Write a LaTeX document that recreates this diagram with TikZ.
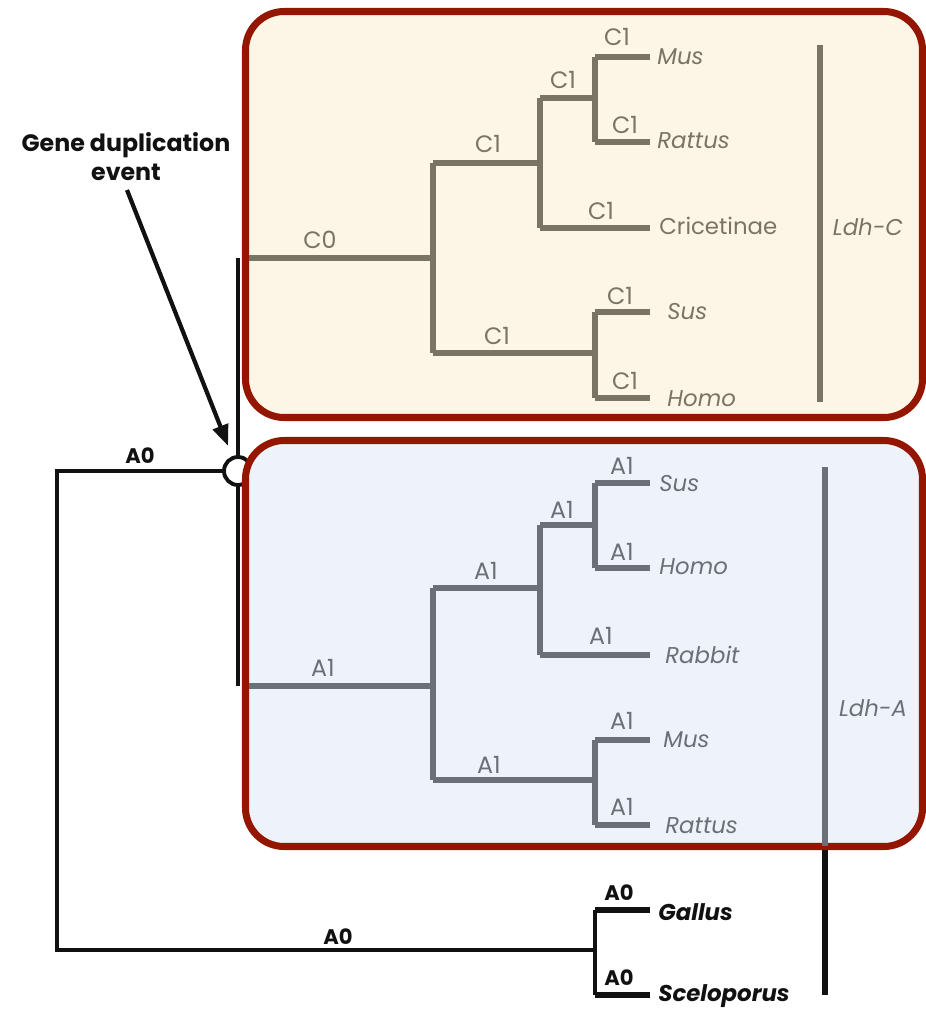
\documentclass[tikz,border=0pt]{standalone}
\usepackage{fontspec}
\setmainfont{Poppins}
\usetikzlibrary{arrows.meta}
\definecolor{boxred}{HTML}{941500}
\definecolor{cream}{HTML}{FDF6E6}
\definecolor{paleblue}{HTML}{EEF2FA}
\definecolor{ccol}{HTML}{7A7464}
\definecolor{acol}{HTML}{6B6F77}
\definecolor{ink}{HTML}{111111}
\tikzset{
  region/.style={draw=boxred, line width=4pt, rounded corners=22pt},
  ctree/.style={draw=ccol, line width=3pt},
  cleaf/.style={draw=ccol, line width=3.6pt},
  atree/.style={draw=acol, line width=3pt},
  aleaf/.style={draw=acol, line width=3.6pt},
  ktree/.style={draw=ink, line width=2.5pt},
  kleaf/.style={draw=ink, line width=3.1pt},
  clab/.style={text=ccol, font=\fontsize{13.5}{15}\selectfont, inner sep=0pt},
  alab/.style={text=acol, font=\fontsize{13.5}{15}\selectfont, inner sep=0pt},
  klab/.style={text=ink, font=\bfseries\fontsize{12}{14}\selectfont, inner sep=0pt},
  cname/.style={text=ccol, font=\itshape\fontsize{13}{15}\selectfont, anchor=west, inner sep=0pt},
  aname/.style={text=acol, font=\itshape\fontsize{13}{15}\selectfont, anchor=west, inner sep=0pt},
  kname/.style={text=ink, font=\bfseries\itshape\fontsize{13}{15}\selectfont, anchor=west, inner sep=0pt},
}
\begin{document}
\begin{tikzpicture}[x=0.02cm,y=-0.02cm]
\useasboundingbox[fill=white] (0,0) rectangle (926,1011);

% black outer tree (behind boxes)
\coordinate (dupTop) at (238,258);
\coordinate (dupBot) at (238,686);
\draw[ktree] (dupTop) -- (dupBot);
\coordinate (kroot) at (57,471);
\coordinate (kbot) at (57,950);
\coordinate (kfork) at (595,950);
\coordinate (ktopL) at (595,910);
\coordinate (kbotL) at (595,995);
\coordinate (gallE) at (650,910);
\coordinate (sceE) at (650,995);
\node[circle, draw=ink, fill=white, line width=2.2pt, minimum size=0.56cm, inner sep=0pt] (dup) at (238,471) {};
\draw[ktree] (dup.west) -- (kroot) -- (kbot) -- (kfork);
\draw[ktree] (ktopL) -- (kbotL);
\draw[kleaf] (ktopL) -- (gallE);
\draw[kleaf] (kbotL) -- (sceE);
\node[klab] (lka) at (140,456) {A0};
\node[klab] (lkb) at (338,937) {A0};
\node[klab] (lkc) at (619,893) {A0};
\node[klab] (lkd) at (619,978) {A0};
\node[kname] (gallus) at (658,912) {Gallus};
\node[kname] (scel) at (658,996) {Sceloporus};
\coordinate (barKtop) at (825,850);
\coordinate (barKbot) at (825,995);
\draw[ink, line width=3.4pt] (barKtop) -- (barKbot);

% annotation
\node[text=ink, font=\bfseries\fontsize{13.5}{16.5}\selectfont, align=center, inner sep=0pt] (gde) at (126,157) {Gene duplication\\event};
\coordinate (arrS) at (127,190);
\draw[ink, line width=2.4pt, -{Triangle[length=12pt,width=9pt]}, shorten >=0.22cm] (arrS) -- (dup);

% boxes
\draw[region, fill=cream] (245.5,11.5) rectangle (922.5,417.5);
\draw[region, fill=paleblue] (245.5,440.5) rectangle (922.5,846.5);

% Ldh-C tree
\coordinate (c0) at (249,258);
\coordinate (c1) at (433,258);
\coordinate (c1u) at (433,163);
\coordinate (c1d) at (433,353);
\coordinate (c2) at (540,163);
\coordinate (c2u) at (540,98);
\coordinate (c2d) at (540,228);
\coordinate (c3) at (595,98);
\coordinate (c3u) at (595,57);
\coordinate (c3d) at (595,142);
\coordinate (c4) at (595,353);
\coordinate (c4u) at (595,312);
\coordinate (c4d) at (595,398);
\draw[ctree] (c0) -- (c1);
\draw[ctree] (c1u) -- (c1d);
\draw[ctree] (c1u) -- (c2);
\draw[ctree] (c2u) -- (c2d);
\draw[ctree] (c2u) -- (c3);
\draw[ctree] (c3u) -- (c3d);
\draw[ctree] (c1d) -- (c4);
\draw[ctree] (c4u) -- (c4d);
\coordinate (cmusE) at (650,57);
\coordinate (cratE) at (650,142);
\coordinate (ccriE) at (650,228);
\coordinate (csusE) at (650,312);
\coordinate (chomE) at (650,398);
\draw[cleaf] (c3u) -- (cmusE);
\draw[cleaf] (c3d) -- (cratE);
\draw[cleaf] (c2d) -- (ccriE);
\draw[cleaf] (c4u) -- (csusE);
\draw[cleaf] (c4d) -- (chomE);
\node[cname] (cmus) at (657,57) {Mus};
\node[cname] (crat) at (657,141) {Rattus};
\node[cname, font=\fontsize{13}{15}\selectfont] (ccri) at (659,226) {Cricetinae};
\node[cname] (csus) at (667,312) {Sus};
\node[cname] (chom) at (667,399) {Homo};
\node[clab] (lc0) at (320,240) {C0};
\node[clab] (lc1) at (488,144) {C1};
\node[clab] (lc2) at (563,80) {C1};
\node[clab] (lc3) at (617,37) {C1};
\node[clab] (lc4) at (625,125) {C1};
\node[clab] (lc5) at (601,211) {C1};
\node[clab] (lc6) at (497,336) {C1};
\node[clab] (lc7) at (620,296) {C1};
\node[clab] (lc8) at (625,381) {C1};
\coordinate (barCtop) at (820,45);
\coordinate (barCbot) at (820,402);
\draw[ccol, line width=3.4pt] (barCtop) -- (barCbot);
\node[cname, anchor=center] (ldhc) at (868,227) {Ldh-C};

% Ldh-A tree
\coordinate (a0) at (249,686);
\coordinate (a1) at (433,686);
\coordinate (a1u) at (433,588);
\coordinate (a1d) at (433,780);
\coordinate (a2) at (540,588);
\coordinate (a2u) at (540,525);
\coordinate (a2d) at (540,655);
\coordinate (a3) at (595,525);
\coordinate (a3u) at (595,483);
\coordinate (a3d) at (595,568);
\coordinate (a4) at (595,780);
\coordinate (a4u) at (595,740);
\coordinate (a4d) at (595,825);
\draw[atree] (a0) -- (a1);
\draw[atree] (a1u) -- (a1d);
\draw[atree] (a1u) -- (a2);
\draw[atree] (a2u) -- (a2d);
\draw[atree] (a2u) -- (a3);
\draw[atree] (a3u) -- (a3d);
\draw[atree] (a1d) -- (a4);
\draw[atree] (a4u) -- (a4d);
\coordinate (asusE) at (650,483);
\coordinate (ahomE) at (650,568);
\coordinate (arabE) at (650,655);
\coordinate (amusE) at (650,740);
\coordinate (aratE) at (650,825);
\draw[aleaf] (a3u) -- (asusE);
\draw[aleaf] (a3d) -- (ahomE);
\draw[aleaf] (a2d) -- (arabE);
\draw[aleaf] (a4u) -- (amusE);
\draw[aleaf] (a4d) -- (aratE);
\node[aname] (asus) at (659,484) {Sus};
\node[aname] (ahom) at (659,567) {Homo};
\node[aname] (arab) at (665,655) {Rabbit};
\node[aname] (amus) at (663,740) {Mus};
\node[aname] (arat) at (665,826) {Rattus};
\node[alab] (la0) at (323,668) {A1};
\node[alab] (la1) at (486,571) {A1};
\node[alab] (la2) at (562,510) {A1};
\node[alab] (la3) at (622,466) {A1};
\node[alab] (la4) at (622,552) {A1};
\node[alab] (la5) at (601,636) {A1};
\node[alab] (la6) at (489,765) {A1};
\node[alab] (la7) at (622,721) {A1};
\node[alab] (la8) at (622,807) {A1};
\coordinate (barAtop) at (825,467);
\coordinate (barAbot) at (825,846);
\draw[acol, line width=3.4pt] (barAtop) -- (barAbot);
\node[aname, anchor=center] (ldha) at (873,708) {Ldh-A};
\end{tikzpicture}
\end{document}
